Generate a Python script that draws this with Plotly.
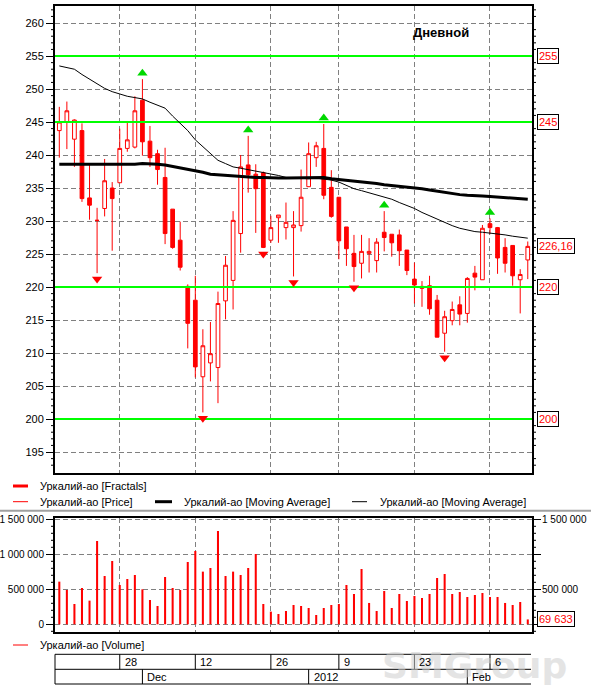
import plotly.graph_objects as go

# ---------------- data ----------------
opens = [243.7, 245.0, 242.4, 243.7, 233.5, 230.1, 231.9, 235.0, 235.8, 241.0,
         241.2, 248.3, 242.1, 240.2, 236.6, 231.8, 227.1, 220.1, 218.0, 206.4,
         208.5, 207.8, 217.9, 221.0, 228.1, 238.5, 237.1, 237.3, 227.1, 230.5,
         229.0, 229.0, 229.3, 235.2, 239.6, 241.0, 235.1, 233.6, 229.1, 225.1,
         223.6, 225.1, 224.0, 228.3, 228.0, 227.9, 225.6, 221.2, 220.1, 220.2,
         218.0, 213.0, 214.9, 217.3, 216.0, 222.1, 221.1, 229.6, 229.0, 226.0,
         226.3, 221.1, 224.1]
highs = [247.3, 248.1, 245.4, 244.8, 238.5, 232.0, 239.4, 235.9, 244.0, 245.0,
         248.9, 251.5, 244.4, 240.8, 241.1, 231.8, 229.9, 220.4, 221.7, 213.6,
         214.7, 219.3, 224.7, 231.5, 240.0, 242.9, 238.6, 237.5, 230.8, 230.9,
         232.8, 231.5, 237.8, 241.9, 242.0, 244.7, 237.7, 233.6, 229.1, 227.9,
         227.9, 227.4, 227.4, 231.5, 228.0, 228.7, 225.6, 223.7, 220.9, 221.7,
         218.8, 216.4, 217.8, 218.6, 221.5, 223.2, 229.4, 230.4, 229.1, 227.4,
         226.3, 222.7, 226.9]
lows = [239.6, 240.9, 238.2, 232.9, 230.2, 222.1, 230.7, 225.5, 235.8, 240.5,
        241.0, 239.9, 238.2, 235.5, 226.5, 225.8, 222.5, 210.7, 206.3, 201.0,
        205.7, 202.4, 215.1, 216.6, 225.2, 234.3, 228.2, 225.9, 226.7, 226.7,
        227.2, 221.6, 228.4, 235.2, 238.2, 233.3, 230.5, 224.2, 223.2, 220.8,
        221.3, 222.2, 222.2, 225.4, 224.6, 223.2, 221.8, 217.5, 217.0, 215.8,
        212.4, 210.2, 214.2, 214.2, 214.6, 219.5, 221.1, 228.0, 222.0, 222.2,
        220.2, 216.0, 221.2]
closes = [245.0, 246.7, 245.3, 233.4, 232.4, 230.1, 236.1, 233.4, 241.0, 242.3,
          246.7, 242.0, 239.6, 237.8, 228.1, 226.0, 223.0, 214.5, 207.9, 211.1,
          209.9, 217.5, 223.3, 230.1, 238.2, 237.0, 234.9, 226.0, 229.0, 230.9,
          229.8, 229.4, 233.6, 240.2, 241.4, 233.9, 230.7, 227.0, 225.8, 223.1,
          225.4, 225.4, 226.8, 227.5, 226.7, 225.5, 222.5, 220.3, 219.8, 216.7,
          212.4, 215.5, 216.6, 215.9, 221.3, 221.5, 228.9, 229.0, 224.4, 223.6,
          221.7, 221.9, 226.16]
volumes = [609500, 490500, 290500, 519000, 338000, 1190500, 690500, 904800, 561900, 647600,
           704800, 500000, 347600, 261900, 676200, 519000, 490500, 890500, 1047600, 752400,
           804800, 1333300, 690500, 752400, 704800, 804800, 1004800, 290500, 181000, 147600,
           190500, 276200, 261900, 233300, 133300, 233300, 276200, 290500, 561900, 433300,
           790500, 304800, 190500, 476200, 233300, 433300, 333300, 404800, 376200, 433300,
           661900, 719000, 433300, 461900, 390500, 419000, 447600, 390500, 390500, 304800,
           276200, 319000, 69633]
ma_fast = [253.5, 253.3, 253.0, 252.2, 251.5, 250.9, 250.1, 249.6, 249.2, 248.9,
           248.7, 248.5, 248.0, 247.5, 247.1, 245.9, 244.8, 243.7, 242.3, 241.3,
           240.2, 239.2, 238.7, 238.2, 238.0, 237.8, 237.6, 237.3, 237.1, 236.9,
           236.6, 236.5, 236.4, 236.4, 236.5, 236.4, 236.2, 235.9, 235.4, 234.9,
           234.6, 234.3, 233.9, 233.6, 233.3, 232.8, 232.4, 231.9, 231.3, 230.8,
           230.2, 229.7, 229.3, 228.9, 228.6, 228.4, 228.3, 228.2, 228.1, 227.9,
           227.7, 227.5, 227.4]
ma_slow = [238.6, 238.6, 238.6, 238.6, 238.6, 238.6, 238.5, 238.5, 238.6, 238.6,
           238.6, 238.7, 238.7, 238.6, 238.5, 238.3, 238.1, 237.8, 237.6, 237.4,
           237.1, 237.0, 236.9, 236.8, 236.7, 236.7, 236.6, 236.6, 236.5, 236.5,
           236.5, 236.5, 236.5, 236.6, 236.6, 236.6, 236.4, 236.3, 236.1, 236.0,
           235.9, 235.8, 235.7, 235.5, 235.4, 235.3, 235.2, 235.0, 234.9, 234.7,
           234.5, 234.3, 234.1, 234.0, 233.9, 233.9, 233.8, 233.7, 233.6, 233.5,
           233.4, 233.3, 233.3]
up_fractal_idx = [11, 25, 35, 43, 57]
down_fractal_idx = [5, 19, 27, 31, 39, 51]
levels = [255, 245, 220, 200]
level_labels = ["255", "245", "220", "200"]
last_price = 226.16
last_price_label = "226,16"
last_volume_label = "69 633"
price_ticks = [195, 200, 205, 210, 215, 220, 225, 230, 235, 240, 245, 250, 255, 260]
price_left_text = ["195", "200", "205", "210", "215", "220", "225", "230", "235", "240", "245", "250", "255", "260"]
price_right_text = ["195", "", "205", "210", "215", "", "225", "230", "235", "240", "", "250", "", "260"]
vol_ticks = [0, 500000, 1000000, 1500000]
vol_left_text = ["0", "500 000", "1 000 000", "1 500 000"]
vol_right_text = ["", "500 000", "", "1 500 000"]
day_tick_idx = [8, 18, 28, 37, 47, 57]
day_tick_text = ["28", "12", "26", "9", "23", "6"]
month_idx = [11, 33, 54]
month_text = ["Dec", "2012", "Feb"]
title_text = "Дневной"
series_name = "Уркалий-ао"
watermark = "SMGroup"

# ---------------- layout helpers (pixel -> paper) ----------------
W, H = 591, 686
L, R, T, B = 55, 532, 6, 632
def px(xp):
    return (xp - L) / (R - L)
def py(yp):
    return (B - yp) / (B - T)

FONT = "Liberation Sans, Arial, sans-serif"
idx = list(range(len(opens)))
XR = [-0.57, 62.56]
PR = [191.82, 262.58]
VR = [-110000, 1518600]
GRID = dict(showgrid=True, gridcolor="#808080", gridwidth=1, griddash="5px,3px")
TF = dict(family=FONT, size=11, color="black")
TFV = dict(family=FONT, size=10, color="black")

fig = go.Figure()
fig.add_trace(go.Bar(x=idx, y=volumes, width=0.27, marker=dict(color="#FF0000", line=dict(width=0)),
                     xaxis="x", yaxis="y", hoverinfo="skip"))
# support / resistance levels (span the whole x range)
for lv in levels:
    fig.add_trace(go.Scatter(x=XR, y=[lv, lv], mode="lines", line=dict(color="#00FF00", width=2),
                             xaxis="x2", yaxis="y2", hoverinfo="skip"))
fig.add_trace(go.Candlestick(x=idx, open=opens, high=highs, low=lows, close=closes,
                             increasing=dict(line=dict(color="#FF0000", width=1), fillcolor="white"),
                             decreasing=dict(line=dict(color="#FF0000", width=1), fillcolor="#FF0000"),
                             whiskerwidth=0, xaxis="x2", yaxis="y2", hoverinfo="skip"))
fig.add_trace(go.Scatter(x=idx, y=ma_slow, mode="lines", line=dict(color="black", width=3),
                         xaxis="x2", yaxis="y2", hoverinfo="skip"))
fig.add_trace(go.Scatter(x=idx, y=ma_fast, mode="lines", line=dict(color="black", width=1),
                         xaxis="x2", yaxis="y2", hoverinfo="skip"))
fig.add_trace(go.Scatter(x=up_fractal_idx, y=[highs[i] + 0.9 for i in up_fractal_idx], mode="markers",
                         marker=dict(symbol="triangle-up", size=9, color="#00D800", line=dict(width=0)),
                         xaxis="x2", yaxis="y2", hoverinfo="skip"))
fig.add_trace(go.Scatter(x=down_fractal_idx, y=[lows[i] - 0.9 for i in down_fractal_idx], mode="markers",
                         marker=dict(symbol="triangle-down", size=9, color="#FF0000", line=dict(width=0)),
                         xaxis="x2", yaxis="y2", hoverinfo="skip"))

price_dom = [py(473), 1]
vol_dom = [0, py(518)]

def yax(**kw):
    d = dict(showline=True, linecolor="black", linewidth=2, tickfont=TF, ticks="outside", ticklen=7,
             tickcolor="black", zeroline=False, automargin=False, tickmode="array", ticklabeloverflow="allow")
    d.update(kw)
    return d

fig.update_layout(
    width=W, height=H, margin=dict(l=L, r=W - R, t=T, b=H - B, autoexpand=False),
    paper_bgcolor="white", plot_bgcolor="white", showlegend=False, hovermode=False,
    xaxis=dict(domain=[0, 1], anchor="y", range=XR, tickmode="array", tickvals=day_tick_idx,
               showticklabels=False, ticks="", mirror=True, zeroline=False, automargin=False,
               showline=True, linecolor="black", linewidth=2, **GRID),
    xaxis2=dict(domain=[0, 1], anchor="y2", range=XR, tickmode="array", tickvals=day_tick_idx,
                showticklabels=False, ticks="", mirror=True, zeroline=False, automargin=False,
                rangeslider=dict(visible=False), showline=True, linecolor="black", linewidth=2, **GRID),
    yaxis=yax(domain=vol_dom, range=VR, anchor="x", tickvals=vol_ticks, ticktext=vol_left_text, mirror="ticks",
              tickfont=TFV, **GRID),
    yaxis2=yax(domain=price_dom, range=PR, anchor="x2", tickvals=price_ticks, ticktext=price_left_text,
               mirror=True, **GRID),
    yaxis3=yax(domain=price_dom, range=PR, anchor="x2", overlaying="y2", side="right", tickvals=price_ticks,
               ticktext=price_right_text, showgrid=False),
)

shapes = []
annotations = []

# minor ticks drawn as short lines at the axis edges (every 1 price unit / 100 000 volume)
minor_k = dict(color="black", width=1)
for v in range(193, 263):
    if v % 5:
        for xp0, xp1 in ((L - 4, L), (R, R + 4)):
            shapes.append(dict(type="line", xref="paper", yref="y2", x0=px(xp0), x1=px(xp1), y0=v, y1=v, line=minor_k))
for v in range(-100000, 1600000, 100000):
    if v % 500000 and VR[0] < v < VR[1]:
        for xp0, xp1 in ((L - 4, L), (R, R + 4)):
            shapes.append(dict(type="line", xref="paper", yref="y", x0=px(xp0), x1=px(xp1), y0=v, y1=v, line=minor_k))

# right-hand volume tick labels
for v, t in zip(vol_ticks, vol_right_text):
    if t:
        annotations.append(dict(xref="paper", x=px(540), xanchor="left", yref="y", y=v, yanchor="middle",
                                text=t, showarrow=False, font=TFV))

# boxed right labels
box = dict(xref="paper", x=px(537), xanchor="left", showarrow=False, bgcolor="white",
           bordercolor="black", borderwidth=1, borderpad=1,
           font=dict(family=FONT, size=11, color="#FF0000"))
for lv, lt in zip(levels, level_labels):
    annotations.append(dict(yref="y2", y=lv, text=lt, **box))
annotations.append(dict(yref="y2", y=last_price, text=last_price_label, **box))
annotations.append(dict(yref="y", y=volumes[-1], text=last_volume_label, **box))

# title
annotations.append(dict(xref="paper", yref="paper", x=px(441), y=py(32.5), xanchor="center", yanchor="middle",
                        text="<b>%s</b>" % title_text, showarrow=False,
                        font=dict(family=FONT, size=13, color="black")))

# legend area
shapes.append(dict(type="line", xref="paper", yref="paper", x0=px(0), x1=px(W), y0=py(510.7), y1=py(510.7),
                   line=dict(color="#A0A0A0", width=2)))
legend_items = [
    (13, 28, 486, "#FF0000", 3, 38, series_name + " [Fractals]"),
    (13, 28, 501.7, "#FF0000", 1, 38, series_name + " [Price]"),
    (155, 172, 501.7, "black", 3, 182, series_name + " [Moving Average]"),
    (352, 367, 501.7, "black", 1, 378, series_name + " [Moving Average]"),
    (13, 28, 645, "#FF0000", 1, 38, series_name + " [Volume]"),
]
for x0, x1, yy, col, wd, tx, txt in legend_items:
    shapes.append(dict(type="line", xref="paper", yref="paper", x0=px(x0), x1=px(x1), y0=py(yy), y1=py(yy),
                       line=dict(color=col, width=wd)))
    annotations.append(dict(xref="paper", yref="paper", x=px(tx), y=py(yy), xanchor="left", yanchor="middle",
                            text=txt, showarrow=False, font=TF))

# watermark
annotations.append(dict(xref="paper", yref="paper", x=px(474), y=py(665), xanchor="center", yanchor="middle",
                        text="<b>%s</b>" % watermark, showarrow=False,
                        font=dict(family="DejaVu Sans, sans-serif", size=36, color="#CFCFCF"), opacity=0.55))

# date table
line_k = dict(color="black", width=1)
for yy in (654.3, 669.3, 684):
    shapes.append(dict(type="line", xref="paper", yref="paper", x0=0, x1=px(531), y0=py(yy), y1=py(yy), line=line_k))
shapes.append(dict(type="line", xref="paper", yref="paper", x0=0, x1=0, y0=py(654.3), y1=py(684), line=line_k))
for xi, t in zip(day_tick_idx, day_tick_text):
    shapes.append(dict(type="line", xref="x", yref="paper", x0=xi, x1=xi, y0=py(654.3), y1=py(669.3), line=line_k))
    annotations.append(dict(xref="x", yref="paper", x=xi, xshift=3, xanchor="left", y=py(661.8), yanchor="middle",
                            text=t, showarrow=False, font=TF))
for xi, t in zip(month_idx, month_text):
    shapes.append(dict(type="line", xref="x", yref="paper", x0=xi, x1=xi, y0=py(669.3), y1=py(684), line=line_k))
    annotations.append(dict(xref="x", yref="paper", x=xi, xshift=3, xanchor="left", y=py(676.6), yanchor="middle",
                            text=t, showarrow=False, font=TF))

fig.update_layout(shapes=shapes, annotations=annotations)
fig.write_html("out.html", config={"displayModeBar": False},
               post_script="document.body.style.margin='0px';")
